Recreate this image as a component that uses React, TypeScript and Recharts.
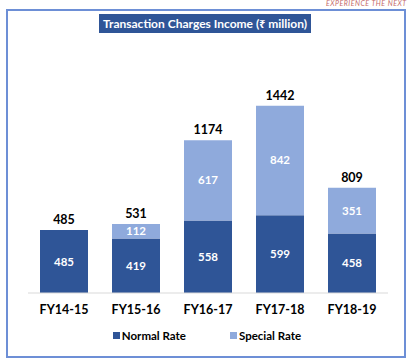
import { BarChart, Bar, XAxis, YAxis, LabelList } from 'recharts';

const years = ['FY14-15', 'FY15-16', 'FY16-17', 'FY17-18', 'FY18-19'];
const normalRate = [485, 419, 558, 599, 458];
const specialRate = [0, 112, 617, 842, 351];
const totals = [485, 531, 1174, 1442, 809];

const NORMAL = '#2f5597';
const SPECIAL = '#8faadc';
const FONT = 'Lato, "Noto Sans", sans-serif';

const data = years.map((year, i) => ({
    year,
    normal: normalRate[i],
    special: specialRate[i],
    total: totals[i],
}));

export default function App() {
    return (
        <div style={{ position: 'absolute', left: 0, top: 0, width: 408, height: 364, background: '#fff', overflow: 'hidden', fontFamily: FONT }}>
            <div style={{ position: 'absolute', left: 326, top: -1, fontSize: 7, fontStyle: 'italic', color: '#c46a6a', whiteSpace: 'nowrap', letterSpacing: 0.5 }}>
                EXPERIENCE THE NEXT
            </div>
            <div style={{ position: 'absolute', left: 6, top: 9, width: 396, height: 345, border: '2px solid #6d8fd6' }} />
            <div style={{ position: 'absolute', left: 99, top: 14, width: 212, height: 19, background: NORMAL, color: '#fff', fontWeight: 'bold', fontSize: 12, lineHeight: '19px', display: 'flex', justifyContent: 'center', whiteSpace: 'nowrap' }}>
                <span>Transaction Charges Income (<span style={{ fontFamily: '"Noto Sans"', fontSize: 10.5 }}>₹</span> million)</span>
            </div>
            <div style={{ position: 'absolute', left: 0, top: 0 }}>
                <BarChart
                    width={408}
                    height={364}
                    data={data}
                    margin={{ top: 85, right: 20, bottom: 41, left: 28 }}
                    barCategoryGap={12}
                >
                    <XAxis
                        dataKey="year"
                        height={30}
                        axisLine={{ stroke: '#d9d9d9' }}
                        tickLine={false}
                        tick={{ fill: '#000', fontSize: 12.5, fontWeight: 'bold', fontFamily: FONT }}
                        tickMargin={6}
                    />
                    <XAxis dataKey="year" xAxisId="totals" hide />
                    <YAxis hide domain={[0, 1600]} />
                    <Bar dataKey="normal" stackId="a" fill={NORMAL} isAnimationActive={false}>
                        <LabelList dataKey="normal" position="center" fill="#fff" fontSize={11.5} fontWeight="bold" fontFamily={FONT} />
                    </Bar>
                    <Bar dataKey="special" stackId="a" fill={SPECIAL} isAnimationActive={false}>
                        <LabelList dataKey="special" position="center" fill="#fff" fontSize={11.5} fontWeight="bold" fontFamily={FONT} />
                    </Bar>
                    <Bar dataKey="total" xAxisId="totals" fill="none" isAnimationActive={false}>
                        <LabelList dataKey="total" position="top" offset={6} fill="#000" fontSize={12.5} fontWeight="bold" fontFamily={FONT} />
                    </Bar>
                </BarChart>
            </div>
            <div style={{ position: 'absolute', left: 0, top: 329, width: 408, display: 'flex', justifyContent: 'center', fontSize: 11.5, fontWeight: 'bold', color: '#000' }}>
                <div style={{ display: 'flex', alignItems: 'center', marginLeft: 6 }}>
                    <span style={{ width: 7, height: 7, background: NORMAL, display: 'inline-block', marginRight: 2 }} />
                    Normal Rate
                </div>
                <div style={{ display: 'flex', alignItems: 'center', marginLeft: 44 }}>
                    <span style={{ width: 7, height: 7, background: SPECIAL, display: 'inline-block', marginRight: 2 }} />
                    Special Rate
                </div>
            </div>
        </div>
    );
}
